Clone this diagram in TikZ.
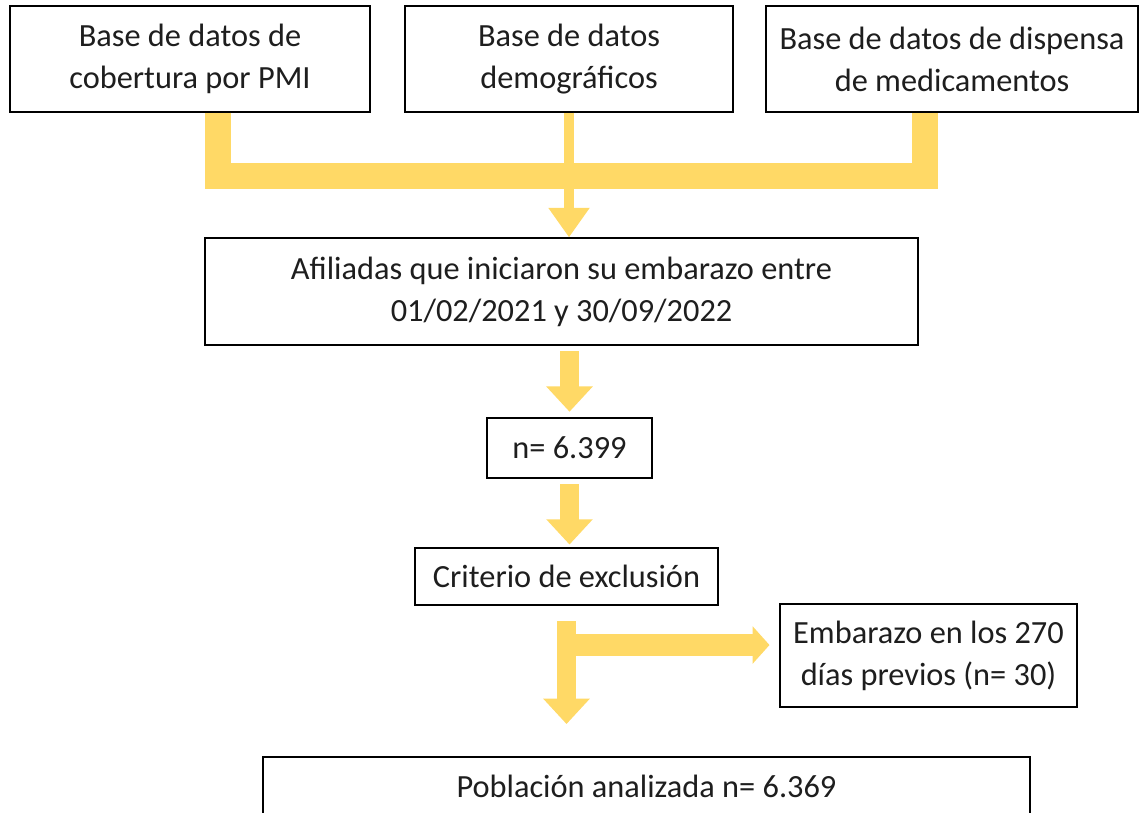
\documentclass[tikz,border=0pt]{standalone}
\usepackage{fontspec}
\setmainfont{Carlito}
\usetikzlibrary{arrows.meta}
\definecolor{gold}{RGB}{255,217,102}
\definecolor{ink}{RGB}{30,30,30}
\tikzset{
  box/.style={draw=black, line width=0.9pt, fill=white, align=center, inner sep=0pt,
    text=ink, font=\fontsize{23}{30}\selectfont},
  band/.style={draw=gold, line width=19pt},
  flow/.style={draw=gold, line width=14pt, -{Triangle[width=32pt,length=18pt]}},
  thinflow/.style={draw=gold, line width=6.5pt, -{Triangle[width=28pt,length=21pt]}},
  sideflow/.style={draw=gold, line width=16pt, -{Triangle[width=26pt,length=12pt]}},
}

\begin{document}
\begin{tikzpicture}[x=0.025cm,y=-0.025cm]
  \clip (0,0) rectangle (1141,812);
  \fill[white] (0,0) rectangle (1141,812);

  % sources
  \node[box, minimum width=9cm, minimum height=2.65cm] (pmi) at (190,59)
    {Base de datos de\\cobertura por PMI};
  \node[box, minimum width=8.2cm, minimum height=2.65cm] (demo) at (569,59)
    {Base de datos\\demográficos};
  \node[box, minimum width=9.3cm, minimum height=2.65cm] (disp) at (952,59)
    {Base de datos de dispensa\\de medicamentos};

  % flow
  \node[box, minimum width=17.825cm, minimum height=2.675cm] (afil) at (561.5,291.5)
    {Afiliadas que iniciaron su embarazo entre\\01/02/2021 y 30/09/2022};
  \node[box, minimum width=4.125cm, minimum height=1.5cm] (n) at (569.5,448) {n= 6.399};
  \node[box, minimum width=7.575cm, minimum height=1.425cm] (crit) at (566.5,576.5)
    {Criterio de exclusión};
  \node[box, minimum width=7.425cm, minimum height=2.575cm] (emb) at (928.5,655.5)
    {Embarazo en los 270\\días previos (n= 30)};
  \node[box, minimum width=19.175cm, minimum height=1.45cm] (pob) at (646.5,786)
    {Población analizada n= 6.369};

  \coordinate (jl) at (218,176);
  \coordinate (jr) at (925,176);
  \coordinate (br) at (567,645);

  \draw[band] (pmi.south -| jl) -- (jl) -- (jr) -- (disp.south -| jr);
  \draw[thinflow] (demo.south) -- (demo.south |- afil.north);

  \draw[flow, shorten <=4pt, shorten >=4pt] (afil.south -| n.north) -- (n.north);
  \draw[flow, shorten <=4pt, shorten >=2pt] (n.south) -- (n.south |- crit.north);
  \draw[flow, shorten <=11pt, shorten >=23pt] (crit.south) -- (crit.south |- pob.north);
  \draw[sideflow, shorten >=7pt] (br) -- (br -| emb.west);
\end{tikzpicture}
\end{document}
